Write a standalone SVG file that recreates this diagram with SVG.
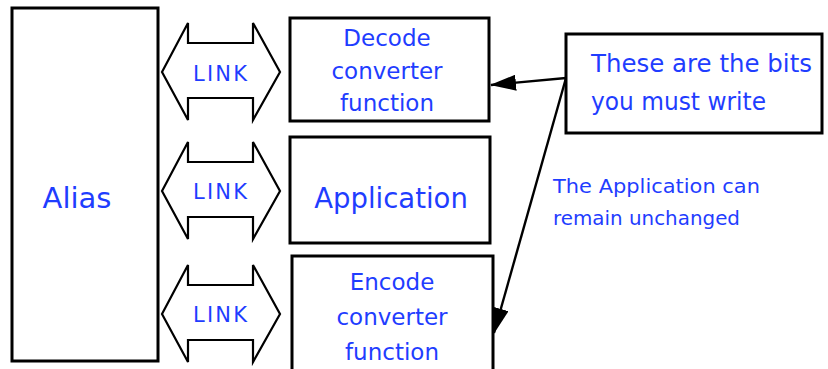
<svg xmlns="http://www.w3.org/2000/svg" width="828" height="369" viewBox="0 0 828 369">
  <style>
    .box { fill: #fff; stroke: #000; stroke-width: 3; }
    .link { fill: #fff; stroke: #000; stroke-width: 2.2; stroke-linejoin: miter; }
    .t { font-family: "DejaVu Sans", "Liberation Sans", sans-serif; fill: #1f3dff; text-anchor: middle; }
    .l { font-family: "DejaVu Sans", "Liberation Sans", sans-serif; fill: #1f3dff; }
    .conn { stroke: #000; stroke-width: 2.4; fill: none; }
  </style>
  <defs>
    <marker id="head" markerWidth="26" markerHeight="16" viewBox="0 0 26 16" refX="25" refY="8" markerUnits="userSpaceOnUse" orient="auto">
      <path d="M0,0 L26,8 L0,16 Z" fill="#000"/>
    </marker>
    <!-- double-headed block arrow, centred on its own origin -->
    <path id="linkShape" d="M-58,0 L-32,-49 L-32,-29 L33,-29 L33,-49 L60,0 L33,48 L33,26 L-32,26 L-32,48 Z"/>
  </defs>

  <rect width="828" height="369" fill="#fff"/>

  <g id="alias">
    <rect class="box" x="12" y="8" width="146" height="353"/>
    <text class="t" x="77" y="208" font-size="29">Alias</text>
  </g>

  <g id="link1">
    <use href="#linkShape" class="link" x="220" y="72"/>
    <text class="l" x="193" y="81" font-size="21" textLength="54" lengthAdjust="spacing">LINK</text>
  </g>
  <g id="link2">
    <use href="#linkShape" class="link" x="220" y="191"/>
    <text class="l" x="193" y="199" font-size="21" textLength="54" lengthAdjust="spacing">LINK</text>
  </g>
  <g id="link3">
    <use href="#linkShape" class="link" x="220" y="314"/>
    <text class="l" x="193" y="322" font-size="21" textLength="54" lengthAdjust="spacing">LINK</text>
  </g>

  <g id="decode">
    <rect class="box" x="290" y="18" width="199" height="103"/>
    <text class="t" x="387" y="46" font-size="23">Decode</text>
    <text class="t" x="387" y="79" font-size="23">converter</text>
    <text class="t" x="387" y="111" font-size="23">function</text>
  </g>

  <g id="application">
    <rect class="box" x="290" y="137" width="200" height="106"/>
    <text class="t" x="391" y="208" font-size="27.5">Application</text>
  </g>

  <g id="encode">
    <rect class="box" x="292" y="256" width="201" height="120"/>
    <text class="t" x="392" y="290" font-size="23">Encode</text>
    <text class="t" x="392" y="325" font-size="23">converter</text>
    <text class="t" x="392" y="360" font-size="23">function</text>
  </g>

  <g id="note">
    <rect class="box" x="566" y="34" width="256" height="99"/>
    <text class="l" x="591" y="72" font-size="24" textLength="221" lengthAdjust="spacingAndGlyphs">These are the bits</text>
    <text class="l" x="591" y="110" font-size="24" textLength="175" lengthAdjust="spacingAndGlyphs">you must write</text>
  </g>

  <g id="remark">
    <text class="l" x="553" y="193" font-size="19" textLength="207" lengthAdjust="spacingAndGlyphs">The Application can</text>
    <text class="l" x="553" y="225" font-size="19" textLength="187" lengthAdjust="spacingAndGlyphs">remain unchanged</text>
  </g>

  <g id="connectors">
    <line class="conn" x1="566" y1="78" x2="491" y2="85" marker-end="url(#head)"/>
    <line class="conn" x1="566" y1="78" x2="494" y2="333" marker-end="url(#head)"/>
  </g>
</svg>
